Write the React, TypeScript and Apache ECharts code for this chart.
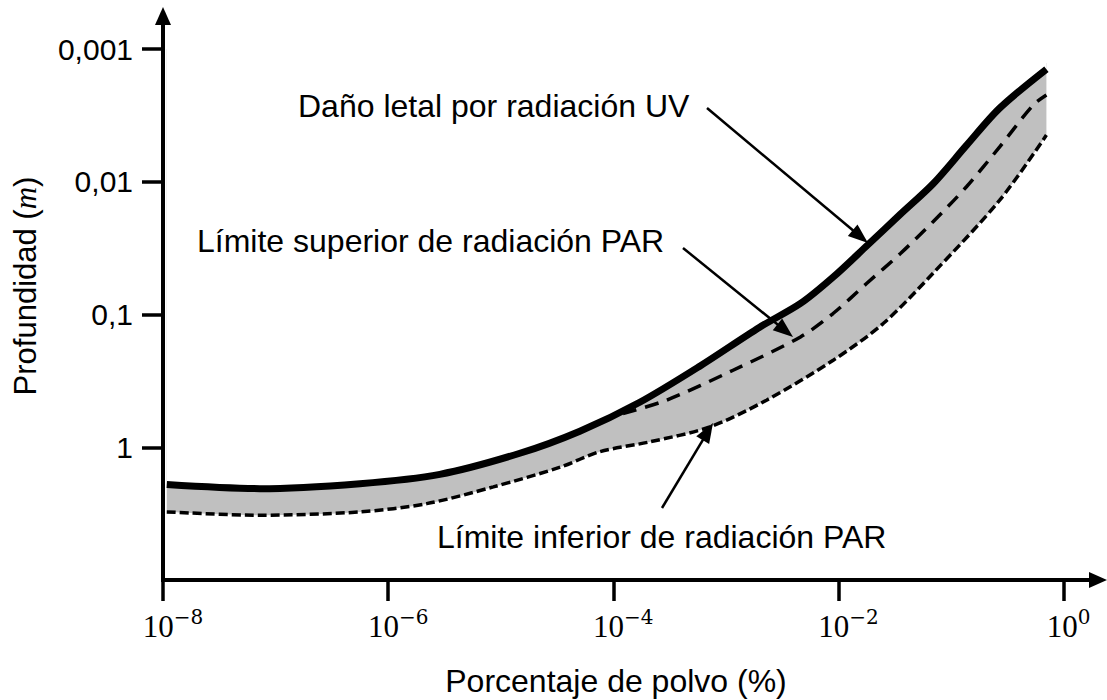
import React, { useEffect, useRef } from 'react';
import * as echarts from 'echarts';

// Porcentaje de polvo (%) and profundidad (m)
const uvDust = [1.08e-8, 7.26e-8, 5.62e-7, 2.88e-6, 1.48e-5, 5.05e-5, 1.72e-4, 5.87e-4, 2.0e-3, 4.61e-3, 9.03e-3, 1.81e-2, 3.56e-2, 6.98e-2, 0.138, 0.271, 0.705];
const uvDepth = [1.91, 2.05, 1.88, 1.6, 1.11, 0.757, 0.458, 0.245, 0.1247, 0.0826, 0.0521, 0.0301, 0.01754, 0.0103, 0.0053, 0.00279, 0.00142];

const upperDust = [1.22e-4, 2.97e-4, 1.16e-3, 4.61e-3, 8.97e-3, 1.78e-2, 3.56e-2, 6.94e-2, 0.1374, 0.271, 0.536, 0.705];
const upperDepth = [0.557, 0.442, 0.263, 0.1475, 0.0983, 0.0584, 0.0347, 0.02, 0.0109, 0.00546, 0.00265, 0.00222];

const lowerDust = [1.08e-8, 7.26e-8, 5.62e-7, 2.2e-6, 8.6e-6, 3.4e-5, 7.6e-5, 2.1e-4, 7.2e-4, 2.3e-3, 9.0e-3, 2.5e-2, 6.9e-2, 0.271, 0.705];
const lowerDepth = [3.07, 3.25, 3.07, 2.66, 1.99, 1.41, 1.08, 0.912, 0.703, 0.442, 0.221, 0.117, 0.0491, 0.01377, 0.00445];

const xTicks = [1e-8, 1e-6, 1e-4, 1e-2, 1];
const xTickExp = ['−8', '−6', '−4', '−2', '0'];
const yTicks = [0.001, 0.01, 0.1, 1];
const yTickLabels = ['0,001', '0,01', '0,1', '1'];

const labelUV = 'Daño letal por radiación UV';
const labelUpper = 'Límite superior de radiación PAR';
const labelLower = 'Límite inferior de radiación PAR';

const pair = (xs: number[], ys: number[]) => xs.map((x, i) => [x, ys[i]]);

const nearestIndex = (arr: number[], v: number) => {
  let best = 0;
  let bd = Infinity;
  arr.forEach((a, i) => {
    const d = Math.abs(Math.log10(a) - Math.log10(v));
    if (d < bd) { bd = d; best = i; }
  });
  return best;
};

function arrow(x1: number, y1: number, x2: number, y2: number, headLen = 20, headW = 7.5) {
  const dx = x2 - x1, dy = y2 - y1;
  const L = Math.hypot(dx, dy);
  const ux = dx / L, uy = dy / L;
  const bx = x2 - ux * headLen, by = y2 - uy * headLen;
  const px = -uy, py = ux;
  return [
    { type: 'line', z: 100, shape: { x1, y1, x2: bx + ux * 3, y2: by + uy * 3 }, style: { stroke: '#000', lineWidth: 2.5 } },
    { type: 'polygon', z: 100, shape: { points: [[x2, y2], [bx + px * headW, by + py * headW], [bx - px * headW, by - py * headW]] }, style: { fill: '#000' } },
  ];
}

const SANS = '"Liberation Sans", Arial, sans-serif';

export default function App() {
  const ref = useRef<HTMLDivElement>(null);
  useEffect(() => {
    document.body.style.margin = '0';
    const chart = echarts.init(ref.current as HTMLDivElement, null, { renderer: 'svg' });
    const option: any = {
      animation: false,
      backgroundColor: '#fff',
      grid: { left: 163, right: 43.5, top: 49, bottom: 120, outerBoundsMode: 'none', containLabel: false },
      xAxis: {
        type: 'log',
        logBase: 10,
        min: 1e-8,
        max: 1,
        axisLine: { show: false },
        splitLine: { show: false },
        axisTick: { show: true, length: 21, lineStyle: { color: '#000', width: 3.5 }, customValues: xTicks },
        axisLabel: {
          customValues: xTicks,
          margin: 31,
          formatter: (v: number) => {
            const i = nearestIndex(xTicks, v);
            const e = xTickExp[i];
            const pad = e === '0' ? 'p0' : 'p1';
            return `{${pad}| }{b|10}{s|${e}}`;
          },
          rich: {
            p0: { width: 10, fontSize: 10 },
            p1: { width: 20, fontSize: 10 },
            b: { fontFamily: '"Liberation Serif", serif', fontSize: 31, lineHeight: 31, color: '#000', verticalAlign: 'bottom' },
            s: { fontFamily: '"DejaVu Serif", serif', fontSize: 20, lineHeight: 20, color: '#000', verticalAlign: 'bottom', padding: [0, 0, 15, 0] },
          },
        },
      },
      yAxis: {
        type: 'log',
        logBase: 10,
        min: 0.001,
        max: 10,
        inverse: true,
        axisLine: { show: false },
        splitLine: { show: false },
        axisTick: { show: true, length: 21, lineStyle: { color: '#000', width: 3.5 }, customValues: yTicks },
        axisLabel: {
          customValues: yTicks,
          margin: 30,
          fontFamily: SANS,
          fontSize: 30,
          color: '#000',
          formatter: (v: number) => yTickLabels[nearestIndex(yTicks, v)],
        },
      },
      series: [
        {
          type: 'line',
          name: labelLower,
          data: pair(lowerDust, lowerDepth),
          symbol: 'none',
          smooth: 0.3,
          z: 2,
          lineStyle: { color: '#000', width: 3.5, type: [9, 4] },
          areaStyle: { color: '#c0c0c0', opacity: 1, origin: 'start' },
        },
        {
          type: 'line',
          name: labelUV,
          data: pair(uvDust, uvDepth),
          symbol: 'none',
          smooth: 0.3,
          z: 3,
          lineStyle: { color: '#000', width: 7 },
          areaStyle: { color: '#fff', opacity: 1, origin: 'start' },
        },
        {
          type: 'line',
          name: labelUpper,
          data: pair(upperDust, upperDepth),
          symbol: 'none',
          smooth: 0.3,
          z: 4,
          lineStyle: { color: '#000', width: 3.5, type: [14, 9] },
        },
      ],
      graphic: [
        // cover the anti-aliasing seam at the right end of the shaded band
        { type: 'rect', z: 50, shape: { x: 1045, y: 30, width: 12, height: 33 }, style: { fill: '#fff' } },
        // axes with arrows
        { type: 'line', z: 100, shape: { x1: 163, y1: 582, x2: 163, y2: 22 }, style: { stroke: '#000', lineWidth: 4 } },
        { type: 'polygon', z: 100, shape: { points: [[163, 7], [155, 25], [171, 25]] }, style: { fill: '#000' } },
        { type: 'line', z: 100, shape: { x1: 161, y1: 580, x2: 1092, y2: 580 }, style: { stroke: '#000', lineWidth: 4 } },
        { type: 'polygon', z: 100, shape: { points: [[1107, 580], [1089, 572], [1089, 588]] }, style: { fill: '#000' } },
        // axis names
        {
          type: 'text', z: 100, x: 25, y: 286, rotation: Math.PI / 2,
          style: {
            text: '{a|Profundidad }{a|(}{m|m}{a|)}',
            align: 'center', verticalAlign: 'middle',
            rich: {
              a: { fontFamily: SANS, fontSize: 31, fill: '#000' },
              m: { fontFamily: '"Liberation Serif", serif', fontStyle: 'italic', fontSize: 31, fill: '#000' },
            },
          },
        },
        {
          type: 'text', z: 100, x: 616, y: 681,
          style: { text: 'Porcentaje de polvo (%)', fontFamily: SANS, fontSize: 32, fill: '#000', align: 'center', verticalAlign: 'middle' },
        },
        // annotations
        { type: 'text', z: 100, x: 298, y: 106, style: { text: labelUV, fontFamily: SANS, fontSize: 32, fill: '#000', align: 'left', verticalAlign: 'middle' } },
        { type: 'text', z: 100, x: 197, y: 241, style: { text: labelUpper, fontFamily: SANS, fontSize: 32, fill: '#000', align: 'left', verticalAlign: 'middle' } },
        { type: 'text', z: 100, x: 437, y: 537, style: { text: labelLower, fontFamily: SANS, fontSize: 32, fill: '#000', align: 'left', verticalAlign: 'middle' } },
        ...arrow(707, 108, 868, 243),
        ...arrow(683, 248, 793, 337),
        ...arrow(662, 508, 713, 423),
      ],
    };
    chart.setOption(option);
    return () => chart.dispose();
  }, []);
  return <div ref={ref} style={{ width: 1107, height: 700 }} />;
}
